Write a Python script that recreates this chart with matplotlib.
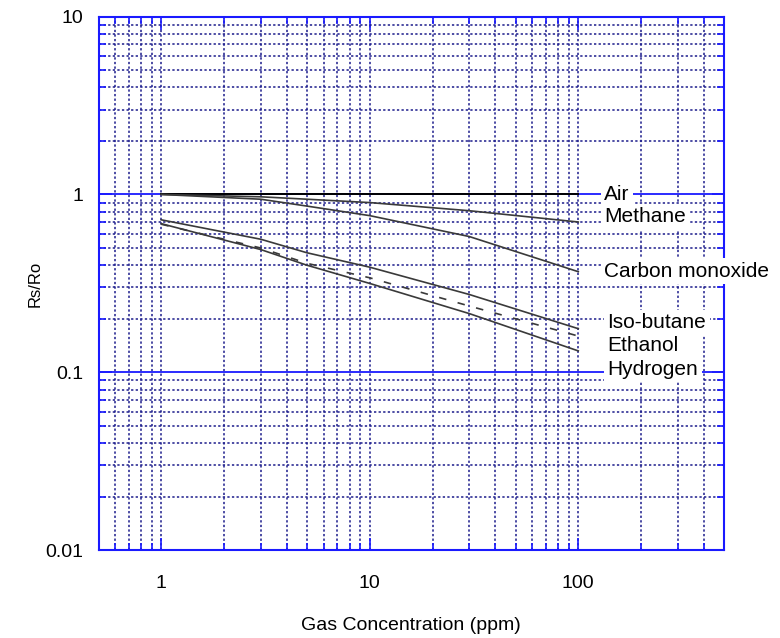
import matplotlib
matplotlib.use("Agg")
import matplotlib.pyplot as plt
from matplotlib.ticker import LogLocator, NullFormatter

plt.rcParams['font.family'] = ['Liberation Sans', 'DejaVu Sans']

# concentration points (ppm)
conc = [1, 3, 5, 10, 30, 100]

# Rs/Ro
air = [1.0, 1.0, 1.0, 1.0, 1.0, 1.0]
methane = [1.0, 0.97, 0.94, 0.90, 0.81, 0.70]
carbon_monoxide = [1.0, 0.94, 0.86, 0.76, 0.58, 0.368]
iso_butane = [0.72, 0.56, 0.47, 0.39, 0.274, 0.176]
ethanol = [0.68, 0.50, 0.41, 0.34, 0.236, 0.16]
hydrogen = [0.685, 0.49, 0.40, 0.316, 0.214, 0.132]

gas_names = ['Air', 'Methane', 'Carbon monoxide', 'Iso-butane', 'Ethanol', 'Hydrogen']
label_y = [1.0, 0.75, 0.37, 0.19, 0.142, 0.104]

blue = '#1a1aff'
navy = '#1c1c8c'
curve = '#3a3a3a'

fig = plt.figure(figsize=(7.8, 6.38), dpi=100)
ax = fig.add_axes([0.1263, 0.1375, 0.8019, 0.8366])

ax.plot(conc, air, color='black', lw=1.4, zorder=3)
ax.plot(conc, methane, color=curve, lw=1.2, zorder=3)
ax.plot(conc, carbon_monoxide, color=curve, lw=1.2, zorder=3)
ax.plot(conc, iso_butane, color=curve, lw=1.2, zorder=3)
ax.plot(conc, ethanol, color=curve, lw=1.2, ls=(0, (4.5, 7)), zorder=3)
ax.plot(conc, hydrogen, color=curve, lw=1.2, zorder=3)

ax.set_xscale('log')
ax.set_yscale('log')
ax.set_xlim(0.5, 500)
ax.set_ylim(0.01, 10)

ax.set_xticks([1, 10, 100])
ax.set_xticklabels(['1', '10', '100'])
ax.set_yticks([0.01, 0.1, 1, 10])
ax.set_yticklabels(['0.01', '0.1', '1', '10'])
ax.xaxis.set_minor_locator(LogLocator(base=10, subs=range(2, 10)))
ax.yaxis.set_minor_locator(LogLocator(base=10, subs=range(2, 10)))
ax.xaxis.set_minor_formatter(NullFormatter())
ax.yaxis.set_minor_formatter(NullFormatter())

ax.tick_params(which='both', direction='in', top=True, right=True, color=blue,
               labelsize=14)
ax.tick_params(which='major', length=9, width=1.2)
ax.tick_params(which='minor', length=5, width=1.2)
ax.tick_params(axis='y', pad=11)
ax.tick_params(axis='x', pad=18)

# grid
ax.grid(which='major', axis='y', color=blue, ls='-', lw=1.3)
ax.grid(which='minor', axis='y', color=navy, ls=(0, (1.5, 1.5)), lw=1.1)
ax.grid(which='both', axis='x', color=navy, ls=(0, (1.5, 1.5)), lw=1.1)

for s in ax.spines.values():
    s.set_color(blue)
    s.set_linewidth(1.5)

for name, y in zip(gas_names, label_y):
    x = 133 if y > 0.3 else 138
    ax.text(x, y, name, fontsize=15, ha='left', va='center', zorder=6,
            clip_on=False,
            bbox=dict(facecolor='white', edgecolor='none', pad=2.5))

ax.set_xlabel('Gas Concentration (ppm)', fontsize=14)
ax.set_ylabel('Rs/Ro', fontsize=12)
ax.xaxis.set_label_coords(0.5, -0.125)
ax.yaxis.set_label_coords(-0.09, 0.5)

fig.savefig('out.png', dpi=100)
